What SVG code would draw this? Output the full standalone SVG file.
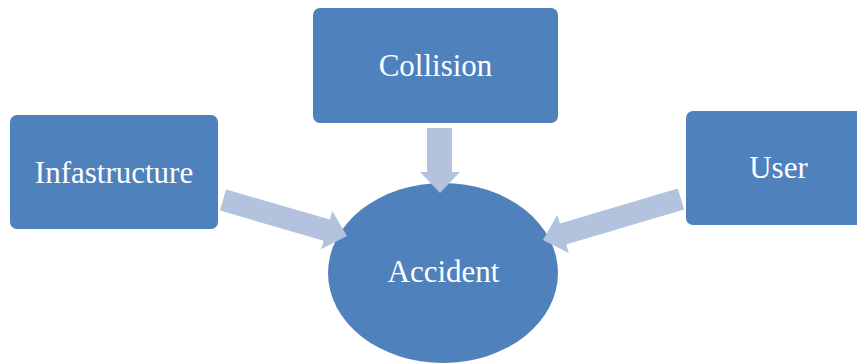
<svg xmlns="http://www.w3.org/2000/svg" width="857" height="363" viewBox="0 0 857 363">
<style>
.box{fill:#4F81BD;}
.lbl{font-family:"Liberation Serif","Times New Roman",serif;font-size:31px;fill:#FFFFFF;text-anchor:middle;}
.arr{fill:#B3C3DE;}
</style>
<rect width="857" height="363" fill="#FFFFFF"/>
<g id="infastructure">
<rect class="box" x="10" y="115" width="208" height="114" rx="7"/>
<text class="lbl" x="114" y="183">Infastructure</text>
</g>
<g id="collision">
<rect class="box" x="313" y="8" width="245" height="115" rx="7"/>
<text class="lbl" x="435.5" y="76">Collision</text>
</g>
<g id="user">
<rect class="box" x="686" y="111" width="185" height="114" rx="7"/>
<text class="lbl" x="778.5" y="178">User</text>
</g>
<g id="accident">
<ellipse class="box" cx="443" cy="273" rx="115" ry="90"/>
<text class="lbl" x="443.5" y="282">Accident</text>
</g>
<g id="connectors">
<polygon class="arr" points="427,128 452,128 452,172 460,172 440,193 420,172 427,172"/>
<polygon class="arr" transform="translate(223,200) rotate(16.2)" points="0,-11 108,-11 108,-20 129,0 108,20 108,11 0,11"/>
<polygon class="arr" transform="translate(681,199) rotate(163.5)" points="0,-11 123,-11 123,-20 144,0 123,20 123,11 0,11"/>
</g>
</svg>
